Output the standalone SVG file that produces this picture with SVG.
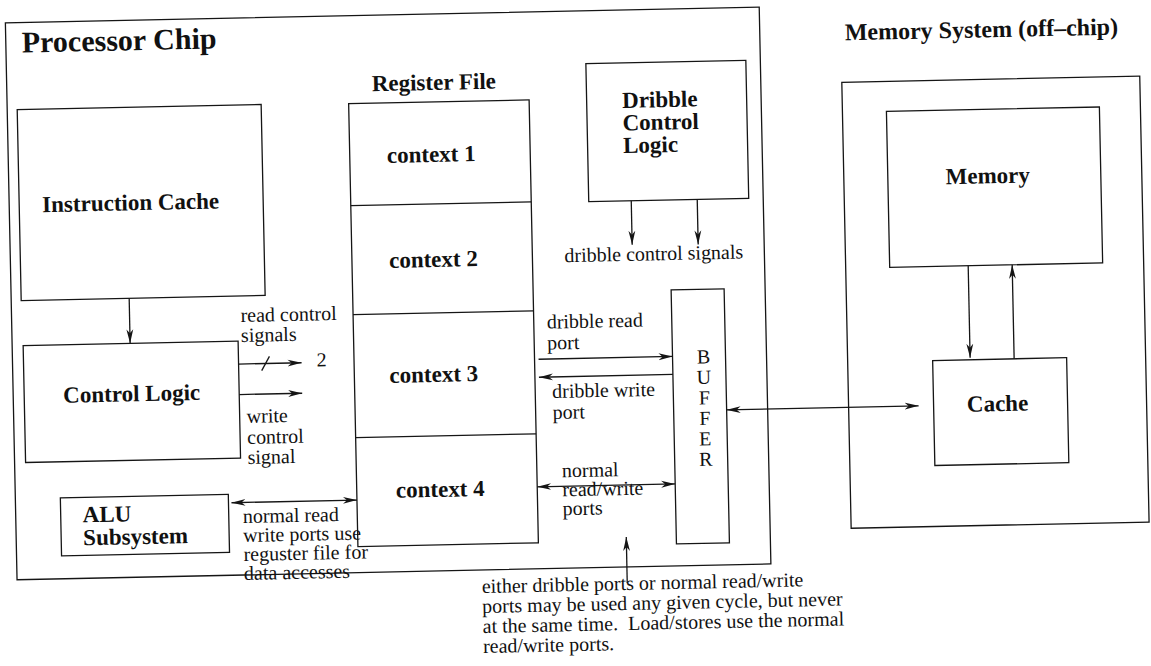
<svg xmlns="http://www.w3.org/2000/svg" width="1151" height="666" viewBox="0 0 1151 666">
  <style>
    .box { fill: none; stroke: #151515; stroke-width: 1.3; }
    .ln { fill: none; stroke: #151515; stroke-width: 1.3; }
    .arr { marker-end: url(#ah); }
    .arr2 { marker-start: url(#ah); marker-end: url(#ah); }
    text { font-family: "Liberation Serif", "Times New Roman", serif; fill: #111; }
    .t { font-size: 20px; }
    .b { font-size: 23px; font-weight: bold; }
    .title { font-size: 30px; font-weight: bold; }
    .sub { font-size: 24px; font-weight: bold; }
    .pre { white-space: pre; }
  </style>
  <defs>
    <marker id="ah" viewBox="0 0 14 8" refX="14" refY="4" markerWidth="14" markerHeight="8" orient="auto-start-reverse" markerUnits="userSpaceOnUse">
      <path d="M0,0.6 L14,4 L0,7.4 L4,4 Z" fill="#151515"/>
    </marker>
  </defs>
  <rect width="1151" height="666" fill="#fff"/>

  <!-- whole sheet sits at a slight tilt -->
  <g transform="rotate(-1.2 575 333)">

    <g id="processor-chip">
      <rect class="box" x="12" y="11" width="754" height="557"/>
      <text class="title" x="28" y="41">Processor Chip</text>
    </g>

    <g id="instruction-cache">
      <rect class="box" x="22" y="98" width="244" height="191"/>
      <text class="b" x="45" y="201">Instruction Cache</text>
    </g>

    <g id="control-logic">
      <rect class="box" x="23" y="334" width="215" height="117"/>
      <text class="b" x="62" y="392">Control Logic</text>
    </g>

    <g id="alu-subsystem">
      <rect class="box" x="57" y="487" width="168" height="58"/>
      <text class="b" x="79" y="512">ALU</text>
      <text class="b" x="79" y="535">Subsystem</text>
    </g>

    <g id="register-file">
      <text class="b" x="377" y="87">Register File</text>
      <rect class="box" x="353.5" y="99" width="180.5" height="443"/>
      <line class="ln" x1="353.5" y1="201" x2="534" y2="201"/>
      <line class="ln" x1="353.5" y1="310" x2="534" y2="310"/>
      <line class="ln" x1="353.5" y1="433" x2="534" y2="433"/>
      <text class="b" x="435" y="159" text-anchor="middle">context 1</text>
      <text class="b" x="435" y="264" text-anchor="middle">context 2</text>
      <text class="b" x="433" y="379" text-anchor="middle">context 3</text>
      <text class="b" x="437" y="494" text-anchor="middle">context 4</text>
    </g>

    <g id="dribble-control-logic">
      <rect class="box" x="591.5" y="64" width="160" height="138"/>
      <text class="b" x="627" y="109">Dribble</text>
      <text class="b" x="627" y="131.5">Control</text>
      <text class="b" x="627" y="154">Logic</text>
    </g>

    <g id="buffer">
      <rect class="box" x="672" y="292" width="53" height="254"/>
      <text class="t" x="703" y="366" text-anchor="middle">B</text>
      <text class="t" x="703" y="386.5" text-anchor="middle">U</text>
      <text class="t" x="703" y="407" text-anchor="middle">F</text>
      <text class="t" x="703" y="427.5" text-anchor="middle">F</text>
      <text class="t" x="703" y="448" text-anchor="middle">E</text>
      <text class="t" x="703" y="468.5" text-anchor="middle">R</text>
    </g>

    <g id="memory-system">
      <text class="sub" x="851" y="46">Memory System (off–chip)</text>
      <rect class="box" x="847" y="88" width="298" height="446"/>
    </g>

    <g id="memory">
      <rect class="box" x="891" y="118" width="213" height="156"/>
      <text class="b" x="991" y="192" text-anchor="middle">Memory</text>
    </g>

    <g id="cache">
      <rect class="box" x="932" y="368" width="134" height="105"/>
      <text class="b" x="996" y="420" text-anchor="middle">Cache</text>
    </g>

    <g id="connectors">
      <!-- instruction cache feeds control logic -->
      <line class="ln arr" x1="130" y1="289" x2="130" y2="334"/>
      <!-- read / write control from control logic -->
      <line class="ln arr" x1="238" y1="357" x2="301" y2="357"/>
      <line class="ln" x1="261" y1="364" x2="269" y2="350"/>
      <line class="ln arr" x1="238" y1="387.5" x2="301" y2="387.5"/>
      <!-- ALU to register file -->
      <line class="ln arr2" x1="228" y1="495.5" x2="353.5" y2="495.5"/>
      <!-- dribble control signals -->
      <line class="ln arr" x1="634" y1="202" x2="634" y2="246"/>
      <line class="ln arr" x1="700" y1="202" x2="700" y2="247"/>
      <!-- register file to buffer ports -->
      <line class="ln arr" x1="538" y1="358.5" x2="672" y2="358.5"/>
      <line class="ln arr" x1="672" y1="376.5" x2="538" y2="376.5"/>
      <line class="ln arr2" x1="534" y1="486" x2="672" y2="486"/>
      <!-- note pointer -->
      <line class="ln arr" x1="622" y1="584" x2="622" y2="538"/>
      <!-- buffer to off-chip cache -->
      <line class="ln arr2" x1="725" y1="413" x2="917" y2="413"/>
      <!-- memory and cache -->
      <line class="ln arr" x1="969.5" y1="274" x2="969.5" y2="366"/>
      <line class="ln arr" x1="1013.5" y1="368" x2="1013.5" y2="274"/>
    </g>

    <g id="labels">
      <text class="t" x="241" y="315">read control</text>
      <text class="t" x="241" y="335">signals</text>
      <text class="t" x="316" y="361">2</text>
      <text class="t" x="245" y="416">write</text>
      <text class="t" x="245" y="437">control</text>
      <text class="t" x="245" y="457">signal</text>
      <text class="t" x="239" y="516">normal read</text>
      <text class="t" x="239" y="535">write ports use</text>
      <text class="t" x="239" y="554">reguster file for</text>
      <text class="t" x="239" y="573">data accesses</text>
      <text class="t" x="566" y="262">dribble control signals</text>
      <text class="t" x="547" y="328">dribble read</text>
      <text class="t" x="547" y="349">port</text>
      <text class="t" x="551" y="397.5">dribble write</text>
      <text class="t" x="551" y="418.5">port</text>
      <text class="t" x="559" y="477">normal</text>
      <text class="t" x="559" y="496">read/write</text>
      <text class="t" x="559" y="515">ports</text>
      <text class="t" x="476.5" y="591">either dribble ports or normal read/write</text>
      <text class="t" x="476.5" y="611">ports may be used any given cycle, but never</text>
      <text class="t pre" x="476.5" y="631">at the same time.  Load/stores use the normal</text>
      <text class="t" x="476.5" y="651">read/write ports.</text>
    </g>
  </g>
</svg>
